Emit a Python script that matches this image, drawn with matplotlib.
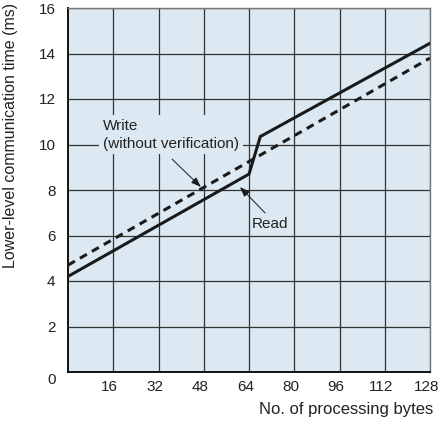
import matplotlib
matplotlib.use("Agg")
import matplotlib.pyplot as plt
from matplotlib.transforms import ScaledTranslation

plt.rcParams['font.family'] = ['Liberation Sans', 'DejaVu Sans']

# Data
read_bytes = [0, 64, 68, 128]
read_ms = [4.2, 8.7, 10.35, 14.45]
write_bytes = [0, 128]
write_ms = [4.7, 13.8]

x_ticks = [16, 32, 48, 64, 80, 96, 112, 128]
y_ticks = [0, 2, 4, 6, 8, 10, 12, 14, 16]

bg = '#dce9f2'
ink = '#1a1a1a'

fig = plt.figure(figsize=(4.4, 4.25), dpi=100)
ax = fig.add_axes([68 / 440, 53 / 425, 362 / 440, 364 / 425])
ax.set_facecolor(bg)

ax.plot(read_bytes, read_ms, color=ink, lw=2.2, solid_joinstyle='miter', zorder=3)
ax.plot(write_bytes, write_ms, color=ink, lw=2.2, linestyle=(0, (2.6, 1.9)), zorder=3)

ax.set_xlim(0, 128)
ax.set_ylim(0, 16)
ax.set_xticks(x_ticks)
ax.set_yticks(y_ticks)
ax.tick_params(length=0, labelsize=11, colors='#222222')
ax.tick_params(axis='x', pad=6)
ax.tick_params(axis='y', pad=9)
ax.set_axisbelow(True)
ax.grid(True, color='#333333', lw=0.9)

# the zero label sits a bit lower in the original
lab0 = ax.get_yticklabels()[0]
lab0.set_transform(lab0.get_transform() + ScaledTranslation(0, -5 / 72, fig.dpi_scale_trans))
# x labels sit slightly left of their ticks
for lab in ax.get_xticklabels():
    lab.set_transform(lab.get_transform() + ScaledTranslation(-2.5 / 72, 0, fig.dpi_scale_trans))

for side in ['left', 'bottom']:
    ax.spines[side].set_color('#111111')
    ax.spines[side].set_linewidth(1.4)
for side in ['top', 'right']:
    ax.spines[side].set_color('#777777')
    ax.spines[side].set_linewidth(1.0)

ax.set_xlabel('No. of processing bytes', fontsize=12, ha='right', va='center', color='#222222')
ax.xaxis.set_label_coords(1.008, -0.104)
ax.set_ylabel('Lower-level communication time (ms)', fontsize=11.5, va='center', color='#222222')
ax.yaxis.set_label_coords(-0.158, 0.651)

arrow = dict(arrowstyle='-|>,head_length=0.6,head_width=0.22', color=ink, lw=0.7, shrinkA=0, shrinkB=0)
ax.text(12.4, 10.42, 'Write\n(without verification)', fontsize=11, ha='left', va='center',
        linespacing=1.3, color='#222222', zorder=4,
        bbox=dict(boxstyle='square,pad=0.25', fc=bg, ec='none'))
ax.annotate('', xy=(47.0, 8.13), xytext=(36.8, 9.36), arrowprops=arrow, zorder=4)

ax.text(65.1, 6.5, 'Read', fontsize=11, ha='left', va='center', color='#222222', zorder=4)
ax.annotate('', xy=(60.8, 8.13), xytext=(69.7, 6.99), arrowprops=arrow, zorder=4)

fig.savefig('out.png', dpi=100, facecolor='white')
